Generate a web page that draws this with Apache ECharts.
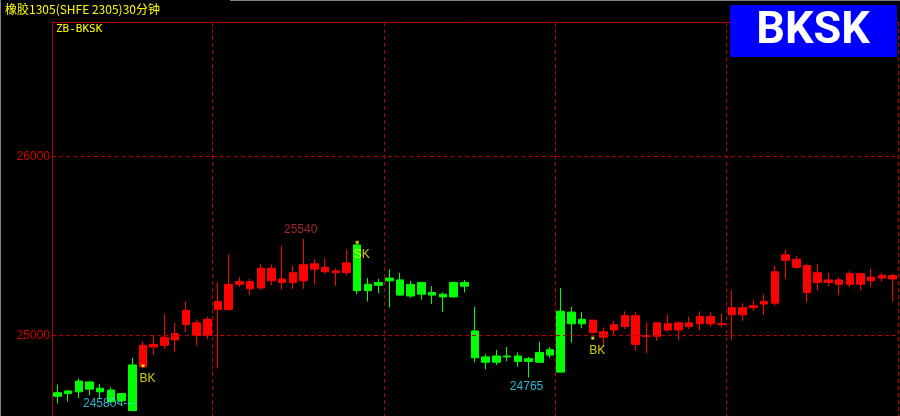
<!DOCTYPE html>
<html>
<head>
<meta charset="utf-8">
<script src="https://cdn.jsdelivr.net/npm/echarts@6/dist/echarts.min.js"></script>
<style>
html,body{margin:0;padding:0;background:#000;}
#chart{width:900px;height:416px;}
</style>
</head>
<body>
<div id="chart"></div>
<script>
// ---- data (30-minute bars, SHFE rubber 2305) ----
const opens  = [24680,24675,24685,24740,24705,24695,24635,24580,24825,24950,
                24945,24975,25060,25070,25000,25145,25145,25285,25300,25265,
                25375,25295,25295,25305,25400,25355,25360,25350,25505,25250,
                25280,25305,25310,25220,25295,25225,25230,25215,25295,25025,
                24880,24850,24885,24885,24855,24850,24890,24795,25130,25065,
                25085,24990,25030,25050,25110,24995,24995,25065,25030,25070,
                25065,25105,25065,25115,25155,25155,25175,25180,25420,25425,
                25390,25295,25310,25285,25285,25345,25305,25320,25335];
const closes = [24660,24690,24745,24700,24685,24630,24675,24835,24945,24935,
                24990,25010,25140,25000,25090,25190,25285,25300,25260,25375,
                25305,25315,25350,25395,25370,25380,25350,25405,25250,25285,
                25295,25320,25225,25285,25230,25240,25215,25295,25275,24875,
                24850,24885,24880,24855,24870,24905,24920,25135,25065,25090,
                25015,25020,25060,25110,24950,25000,25070,25030,25070,25050,
                25105,25065,25060,25155,25115,25165,25190,25355,25450,25380,
                25240,25350,25295,25310,25345,25285,25325,25335,25315];
const lows   = [24620,24630,24650,24665,24645,24625,24610,24580,24825,24890,
                24925,24905,25020,24945,24980,24815,25140,25270,25225,25255,
                25280,25255,25260,25260,25285,25345,25275,25335,25230,25190,
                25235,25155,25225,25210,25200,25175,25130,25210,25240,24850,
                24810,24835,24855,24825,24765,24850,24875,24795,24960,25040,
                25015,24935,25000,25035,24915,24900,24970,25020,24975,25035,
                25025,25050,25045,24975,25080,25140,25115,25165,25315,25370,
                25185,25250,25275,25225,25270,25250,25270,25300,25190];
const highs  = [24725,24695,24760,24745,24730,24710,24680,24875,24965,25000,
                25120,25070,25190,25090,25105,25295,25450,25325,25315,25400,
                25395,25500,25390,25540,25425,25430,25375,25480,25510,25320,
                25315,25370,25350,25305,25300,25275,25240,25300,25310,25160,
                24895,24920,24935,24905,24880,24965,24935,25265,25160,25130,
                25085,25045,25080,25135,25130,25070,25075,25115,25080,25105,
                25135,25130,25120,25250,25180,25200,25230,25390,25480,25445,
                25400,25400,25350,25325,25360,25350,25375,25350,25345];

// trading signals: bar index, signal type, price where the marker dot sits
const signalBars   = [8, 28, 50];
const signalTypes  = ['BK', 'SK', 'BK'];
const signalPrices = [24830, 25520, 24985];
const startPosition = 'SK';

// session break lines (bar index that starts a new block)
const sessionBreaks = [15, 31, 47, 63];

// extreme price annotations
const extremeBars   = [23, 7, 44];
const extremePrices = [25540, 24580, 24765];

// y-axis tick labels (price levels with grid lines)
const yTickLabels = [25000, 26000];
// visible price range of the panel
const yMin = 24550, yMax = 26750;

const categories = opens.map((_, i) => 'K' + (i + 1));

// ---- styling ----
const RED = '#FF0000', GREEN = '#00FF00', YELLOW = '#FFFF00', CYAN = '#3CE0FF';
const GRID_RED = '#B40000';
const NUM_FONT = '"Liberation Sans Narrow","Liberation Sans",sans-serif';

let pos = startPosition;
const barColor = categories.map((_, i) => {
  const k = signalBars.indexOf(i);
  if (k >= 0) pos = signalTypes[k];
  return pos === 'BK' ? RED : GREEN;
});

const candleData = opens.map((o, i) => ({
  value: [o, closes[i], lows[i], highs[i]],
  itemStyle: { color: barColor[i], color0: barColor[i], borderColor: barColor[i], borderColor0: barColor[i] }
}));

const signalData = signalBars.map((b, i) => ({
  value: [b, signalPrices[i]],
  label: { formatter: signalTypes[i] }
}));

const extremeStyle = [
  { text: v => String(v), color: '#C83232', align: 'center', offset: [-3, -9] },
  { text: v => v + '<---', color: CYAN, align: 'right', offset: [3, -7] },
  { text: v => String(v), color: CYAN, align: 'center', offset: [-2, 9] }
];
const extremeData = extremeBars.map((b, i) => ({
  value: [b, extremePrices[i]],
  label: {
    formatter: extremeStyle[i].text(extremePrices[i]),
    color: extremeStyle[i].color,
    align: extremeStyle[i].align,
    offset: extremeStyle[i].offset
  }
}));

const chart = echarts.init(document.getElementById('chart'), null, { renderer: 'canvas' });
chart.setOption({
  backgroundColor: '#000000',
  animation: false,
  title: [
    { text: '橡胶1305(SHFE 2305)30分钟', left: 5, top: 3, padding: 0,
      textStyle: { color: YELLOW, fontSize: 12, fontWeight: 'normal', fontFamily: '"Noto Sans CJK SC",sans-serif' } },
    { text: 'ZB-BKSK', left: 56, top: 24, padding: 0,
      textStyle: { color: YELLOW, fontSize: 11, fontWeight: 'normal', fontFamily: '"DejaVu Sans Mono",monospace' } }
  ],
  grid: { left: 52, right: 2, top: 22, bottom: 0, containLabel: false },
  xAxis: {
    type: 'category',
    data: categories,
    position: 'top',
    boundaryGap: true,
    axisLine: { show: true, onZero: false, lineStyle: { color: GRID_RED, width: 1 } },
    axisTick: { show: false },
    axisLabel: { show: false },
    splitLine: {
      show: true,
      interval: (index) => sessionBreaks.indexOf(index) >= 0,
      lineStyle: { color: GRID_RED, type: [4, 3], width: 1 }
    }
  },
  yAxis: {
    type: 'value',
    min: yMin,
    max: yMax,
    scale: true,
    axisLine: { show: true, lineStyle: { color: GRID_RED, width: 1 } },
    axisTick: { show: false },
    axisLabel: { show: false },
    splitLine: { show: false }
  },
  series: [
    {
      type: 'candlestick',
      data: candleData,
      barWidth: 8,
      itemStyle: { borderWidth: 1 },
      emphasis: { disabled: true },
      silent: true,
      markLine: {
        silent: true,
        symbol: 'none',
        animation: false,
        lineStyle: { color: GRID_RED, type: [4, 3], width: 1 },
        label: {
          show: true,
          position: 'start',
          distance: 2,
          color: '#D00000',
          fontSize: 12,
          fontFamily: NUM_FONT,
          formatter: p => String(p.value)
        },
        emphasis: { disabled: true },
        data: yTickLabels.map(v => ({ yAxis: v }))
      }
    },
    {
      type: 'scatter',
      data: signalData,
      symbol: 'rect',
      symbolSize: 3,
      itemStyle: { color: YELLOW },
      silent: true,
      z: 5,
      label: {
        show: true,
        position: 'inside',
        offset: [4.5, 12.5],
        color: YELLOW,
        fontSize: 12,
        fontFamily: NUM_FONT
      }
    },
    {
      type: 'scatter',
      data: extremeData,
      symbolSize: 0,
      silent: true,
      z: 5,
      label: {
        show: true,
        position: 'inside',
        fontSize: 12,
        fontFamily: NUM_FONT
      }
    }
  ],
  graphic: [
    { type: 'line', shape: { x1: 0.5, y1: 0, x2: 0.5, y2: 416 }, style: { stroke: '#808080', lineWidth: 1 }, z: 100, silent: true },
    { type: 'line', shape: { x1: 230, y1: 0.5, x2: 900, y2: 0.5 }, style: { stroke: '#808080', lineWidth: 1 }, z: 100, silent: true },
    { type: 'rect', shape: { x: 730, y: 5, width: 167, height: 52 }, style: { fill: '#0000FF' }, z: 100, silent: true },
    { type: 'text', x: 813, y: 31.5, z: 101, silent: true,
      style: { text: 'BKSK', fill: '#FFFFFF', font: 'bold 45px Roboto, "Liberation Sans", sans-serif', align: 'center', verticalAlign: 'middle' } }
  ]
});
</script>
</body>
</html>
